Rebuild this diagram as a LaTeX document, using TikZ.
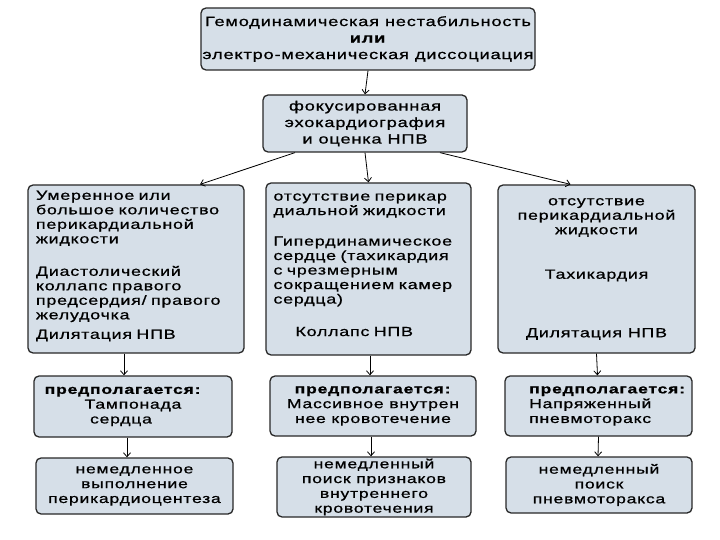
\documentclass[tikz,border=0pt]{standalone}
\usepackage{fontspec}
\setmainfont{Liberation Sans}[FakeStretch=1.35, LetterSpace=6, FakeBold=0.8]
\usetikzlibrary{arrows.meta, calc}
\definecolor{boxfill}{RGB}{214,223,232}
\definecolor{boxline}{RGB}{40,40,40}

\begin{document}
\begin{tikzpicture}[x=1pt, y=-1pt,
    box/.style={draw=boxline, fill=boxfill, line width=1.3pt, rounded corners=5pt,
      inner sep=0pt, font=\fontsize{13}{14.8}\selectfont},
    findbox/.style={box, font=\fontsize{13.2}{14.5}\selectfont},
    arr/.style={-{Straight Barb[length=4pt, width=7pt]}, line width=0.8pt}]
  \useasboundingbox (0,0) rectangle (720,540);
  % Top: instability and echo
  \node[box, minimum width=334pt, minimum height=62pt, align=center,
    font=\fontsize{13.5}{16.5}\selectfont] (inst) at (368,39)
    {Гемодинамическая нестабильность\\ \textbf{или}\\ электро-механическая диссоциация};
  \node[box, minimum width=204pt, minimum height=57pt, align=center,
    font=\fontsize{13.5}{16.5}\selectfont] (echo) at (365,123.5)
    {фокусированная\\ эхокардиография\\ и оценка НПВ};
  \draw[arr] (inst.south) -- (echo.north);
  % Left: tamponade
  \node[findbox, minimum width=216pt, minimum height=168pt, align=left, text width=200pt] (lfind) at (136,269)
    {Умеренное или\\ большое количество\\ перикардиальной\\ жидкости\\[18pt]
     Диастолический\\ коллапс правого\\ предсердия/ правого\\ желудочка\\[5pt]
     Дилятация НПВ\\[-6pt]\mbox{}};
  \node[box, minimum width=198pt, minimum height=61pt, align=center] (lsusp) at (133,406.5)
    {\textbf{предполагается:}\hspace*{20pt}\\ Тампонада\hspace*{24pt}\\ сердца\hspace*{24pt}};
  \node[box, minimum width=197pt, minimum height=56pt, align=center] (lact) at (134.5,486)
    {немедленное\\ выполнение\\ перикардиоцентеза};
  % Middle: hemorrhage
  \node[findbox, minimum width=205pt, minimum height=172pt, align=left, text width=190pt] (mfind) at (368.5,269)
    {отсутствие перикар\\ диальной жидкости\\[16pt]
     Гипердинамическое\\ сердце (тахикардия\\ с чрезмерным\\ сокращением камер\\ сердца)\\[18pt]
     \hspace*{22pt}Коллапс НПВ\\[-6pt]\mbox{}};
  \node[box, minimum width=206pt, minimum height=60pt, align=center] (msusp) at (373,406)
    {\textbf{предполагается:}\\ Массивное внутрен\\ нее кровотечение};
  \node[box, minimum width=194pt, minimum height=60pt, align=center] (mact) at (374,487)
    {немедленный\\ поиск признаков\\ внутреннего\\ кровотечения};
  % Right: pneumothorax
  \node[findbox, minimum width=197pt, minimum height=168pt, align=center] (rfind) at (596.5,269)
    {отсутствие\\ перикардиальной\\ жидкости\\[30pt] Тахикардия\\[44pt] Дилятация НПВ};
  \node[box, minimum width=187pt, minimum height=60pt, align=left] (rsusp) at (598.5,406)
    {\hspace*{18pt}\textbf{предполагается:}\\ \hspace*{18pt}Напряженный\\ \hspace*{18pt}пневмоторакс};
  \node[box, minimum width=186pt, minimum height=56pt, align=center] (ract) at (599,485)
    {немедленный\\ поиск\\ пневмоторакса};
  % connectors
  \draw[arr] ([xshift=-70pt]echo.south) -- ([xshift=64pt]lfind.north);
  \draw[arr] (echo.south) -- (mfind.north);
  \draw[arr] ([xshift=75pt]echo.south) -- ([xshift=-26pt]rfind.north);
  \draw[arr] ([xshift=-12pt]lfind.south) -- ([xshift=-9pt]lsusp.north);
  \draw[arr] ([xshift=1.5pt]mfind.south) -- ([xshift=-3pt]msusp.north);
  \draw[arr] (rfind.south) -- ([xshift=-1pt]rsusp.north);
  \draw[arr] ([xshift=-6pt]lsusp.south) -- ([xshift=-7.5pt]lact.north);
  \draw[arr] ([xshift=-2pt]msusp.south) -- ([xshift=-3pt]mact.north);
  \draw[arr] (rsusp.south) -- ([xshift=-1pt]ract.north);
\end{tikzpicture}
\end{document}
